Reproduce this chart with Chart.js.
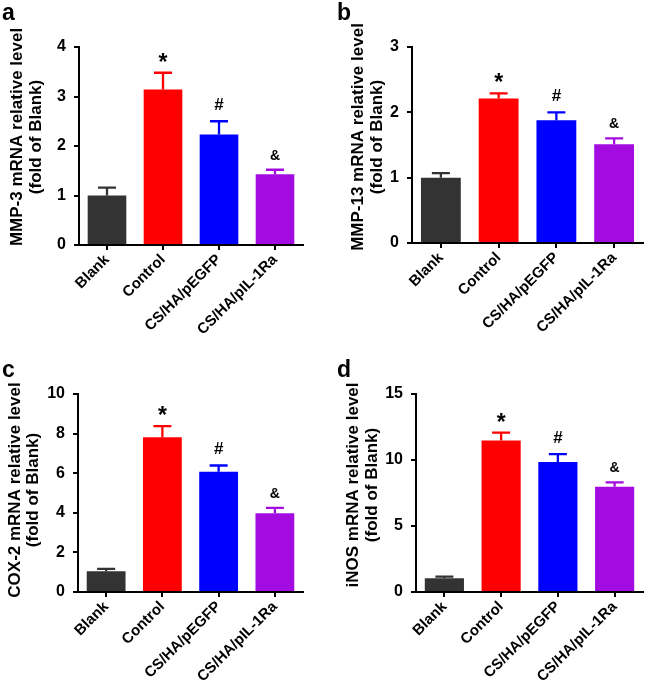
<!DOCTYPE html>
<html>
<head>
<meta charset="utf-8">
<script src="https://cdn.jsdelivr.net/npm/chart.js@4"></script>
<style>
  body { margin: 0; background: #fff; }
  #wrap { position: relative; width: 650px; height: 681px; }
  canvas { position: absolute; }
</style>
</head>
<body>
<div id="wrap">
  <canvas id="chartA" width="325" height="340" style="left:0;top:0"></canvas>
  <canvas id="chartB" width="325" height="340" style="left:325px;top:0"></canvas>
  <canvas id="chartC" width="325" height="341" style="left:0;top:340px"></canvas>
  <canvas id="chartD" width="325" height="341" style="left:325px;top:340px"></canvas>
</div>
<script>
// Data
const categories = ["Blank", "Control", "CS/HA/pEGFP", "CS/HA/pIL-1Ra"];
const barColors = ["#333333", "#ff0000", "#0000ff", "#a20ce0"];
const markers = ["", "*", "#", "&"];

const mmp3 = [1.0, 3.14, 2.23, 1.43];
const mmp3Err = [0.16, 0.34, 0.27, 0.09];
const mmp13 = [1.0, 2.21, 1.88, 1.51];
const mmp13Err = [0.07, 0.08, 0.12, 0.09];
const cox2 = [1.05, 7.81, 6.07, 3.98];
const cox2Err = [0.12, 0.57, 0.32, 0.27];
const inos = [1.04, 11.48, 9.84, 7.97];
const inosErr = [0.12, 0.59, 0.61, 0.33];

const FONT = "Arial, 'Liberation Sans', sans-serif";

// upper error bars, significance marks, y title and panel letter
const errorBarPlugin = {
    id: "errorBars",
    afterDatasetsDraw(chart) {
        const ctx = chart.ctx;
        const meta = chart.getDatasetMeta(0);
        const yScale = chart.scales.y;
        const ds = chart.data.datasets[0];
        const p = chart.options.plugins.errorBars;
        ctx.save();
        meta.data.forEach((bar, i) => {
            const x = bar.x;
            const yTop = yScale.getPixelForValue(ds.data[i] + p.errors[i]);
            ctx.strokeStyle = barColors[i];
            ctx.lineWidth = 2.3;
            ctx.beginPath();
            ctx.moveTo(x, bar.y);
            ctx.lineTo(x, yTop);
            ctx.moveTo(x - 9, yTop);
            ctx.lineTo(x + 9, yTop);
            ctx.stroke();

            const m = markers[i];
            if (m) {
                ctx.fillStyle = "#000";
                ctx.textAlign = "center";
                ctx.textBaseline = "alphabetic";
                if (m === "*") {
                    ctx.font = "bold 23px " + FONT;
                    ctx.fillText(m, x, yTop - 3);
                } else if (m === "#") {
                    ctx.font = "bold 17px " + FONT;
                    ctx.fillText(m, x, yTop - 11);
                } else {
                    ctx.font = "bold 14px " + FONT;
                    ctx.fillText(m, x, yTop - 10);
                }
            }
        });

        // y axis title, two rotated lines
        ctx.fillStyle = "#000";
        ctx.font = "bold 17px " + FONT;
        ctx.textAlign = "center";
        ctx.textBaseline = "middle";
        p.title.forEach((line, k) => {
            ctx.save();
            ctx.translate(p.titleX[k], p.titleY);
            ctx.rotate(-Math.PI / 2);
            ctx.fillText(line, 0, 0);
            ctx.restore();
        });

        ctx.textAlign = "left";
        ctx.textBaseline = "alphabetic";
        ctx.font = "bold 23px " + FONT;
        ctx.fillText(p.letter, p.letterX, p.letterY);
        ctx.restore();
    }
};

function makePanel(id, opts) {
    new Chart(document.getElementById(id), {
        type: "bar",
        data: {
            labels: categories,
            datasets: [{
                data: opts.values,
                backgroundColor: barColors,
                borderWidth: 0,
                barPercentage: 0.69,
                categoryPercentage: 1.0
            }]
        },
        options: {
            responsive: false,
            animation: false,
            layout: { padding: { top: opts.top, right: opts.right, left: 0, bottom: 0 } },
            plugins: {
                legend: { display: false },
                tooltip: { enabled: false },
                errorBars: {
                    errors: opts.errors,
                    title: opts.title,
                    titleX: opts.titleX,
                    titleY: opts.titleY,
                    letter: opts.letter,
                    letterX: opts.letterX,
                    letterY: opts.letterY
                }
            },
            scales: {
                x: {
                    grid: {
                        drawOnChartArea: false,
                        offset: false,
                        color: "#000",
                        lineWidth: 2,
                        tickLength: 5
                    },
                    border: { color: "#000", width: 2 },
                    ticks: {
                        color: "#000",
                        font: { family: FONT, size: 15, weight: "bold" },
                        minRotation: 45,
                        maxRotation: 45,
                        padding: 1
                    },
                    afterFit(scale) { scale.height = opts.xHeight; }
                },
                y: {
                    min: 0,
                    max: opts.max,
                    grid: {
                        drawOnChartArea: false,
                        color: "#000",
                        lineWidth: 2,
                        tickLength: 5
                    },
                    border: { color: "#000", width: 2 },
                    ticks: {
                        stepSize: opts.step,
                        color: "#000",
                        padding: 8,
                        font: { family: FONT, size: 16, weight: "bold" }
                    },
                    afterFit(scale) { scale.width = opts.yWidth; }
                }
            }
        },
        plugins: [errorBarPlugin]
    });
}

makePanel("chartA", {
    values: mmp3, errors: mmp3Err, max: 4, step: 1,
    title: ["MMP-3 mRNA relative level", "(fold of Blank)"],
    titleX: [17, 36], titleY: 137,
    top: 47, right: 22, yWidth: 79, xHeight: 95,
    letter: "a", letterX: 2, letterY: 20
});
makePanel("chartB", {
    values: mmp13, errors: mmp13Err, max: 3, step: 1,
    title: ["MMP-13 mRNA relative level", "(fold of Blank)"],
    titleX: [33, 52], titleY: 137,
    top: 47, right: 7, yWidth: 87, xHeight: 97,
    letter: "b", letterX: 12, letterY: 20
});
makePanel("chartC", {
    values: cox2, errors: cox2Err, max: 10, step: 2,
    title: ["COX-2 mRNA relative level", "(fold of Blank)"],
    titleX: [15, 33], titleY: 150,
    top: 54, right: 22, yWidth: 78, xHeight: 89,
    letter: "c", letterX: 2, letterY: 37
});
makePanel("chartD", {
    values: inos, errors: inosErr, max: 15, step: 5,
    title: ["iNOS mRNA relative level", "(fold of Blank)"],
    titleX: [28, 47], titleY: 145,
    top: 54, right: 7, yWidth: 91, xHeight: 89,
    letter: "d", letterX: 12, letterY: 37
});
</script>
</body>
</html>
